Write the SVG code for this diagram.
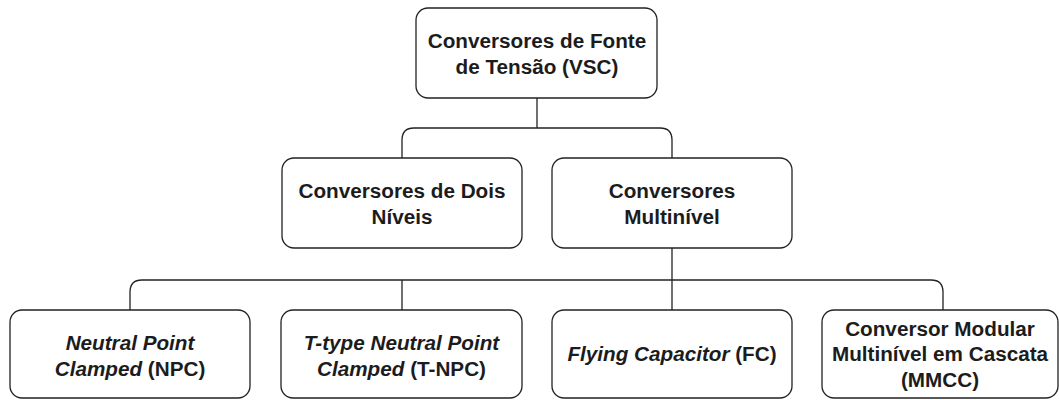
<svg xmlns="http://www.w3.org/2000/svg" width="1059" height="400" viewBox="0 0 1059 400">
  <style>
    .box { fill: #ffffff; stroke: #222222; stroke-width: 1.3; }
    .edge { fill: none; stroke: #222222; stroke-width: 1.3; }
    text { font-family: "Liberation Sans", Arial, sans-serif; font-size: 20.7px; font-weight: bold; fill: #1c1c1c; text-anchor: middle; }
    .it { font-style: italic; }
  </style>
  <rect width="1059" height="400" fill="#ffffff"/>
  <g id="connectors">
    <path class="edge" d="M537,98 V128"/>
    <path class="edge" d="M402,158 V140 Q402,128 414,128 H660 Q672,128 672,140 V158"/>
    <path class="edge" d="M672,248 V310"/>
    <path class="edge" d="M130,310 V292 Q130,280 142,280 H931 Q943,280 943,292 V310"/>
    <path class="edge" d="M402,280 V310"/>
  </g>
  <g id="node-vsc">
    <rect class="box" x="416" y="8" width="241" height="90" rx="12"/>
    <text x="537" y="48">Conversores de Fonte</text>
    <text x="537" y="74">de Tensão (VSC)</text>
  </g>
  <g id="node-dois-niveis">
    <rect class="box" x="282" y="158" width="240" height="90" rx="12"/>
    <text x="402" y="198">Conversores de Dois</text>
    <text x="402" y="224">Níveis</text>
  </g>
  <g id="node-multinivel">
    <rect class="box" x="552" y="158" width="240" height="90" rx="12"/>
    <text x="672" y="198">Conversores</text>
    <text x="672" y="224">Multinível</text>
  </g>
  <g id="node-npc">
    <rect class="box" x="10" y="310" width="240" height="88" rx="12"/>
    <text x="130" y="350"><tspan class="it">Neutral Point</tspan></text>
    <text x="130" y="376"><tspan class="it">Clamped</tspan> (NPC)</text>
  </g>
  <g id="node-tnpc">
    <rect class="box" x="281" y="310" width="241" height="88" rx="12"/>
    <text x="401.5" y="350"><tspan class="it">T-type Neutral Point</tspan></text>
    <text x="401.5" y="376"><tspan class="it">Clamped</tspan> (T-NPC)</text>
  </g>
  <g id="node-fc">
    <rect class="box" x="552" y="310" width="240" height="88" rx="12"/>
    <text x="672" y="361"><tspan class="it">Flying Capacitor</tspan> (FC)</text>
  </g>
  <g id="node-mmcc">
    <rect class="box" x="822" y="310" width="236" height="88" rx="12"/>
    <text x="940" y="336">Conversor Modular</text>
    <text x="940" y="361">Multinível em Cascata</text>
    <text x="940" y="387">(MMCC)</text>
  </g>
</svg>
